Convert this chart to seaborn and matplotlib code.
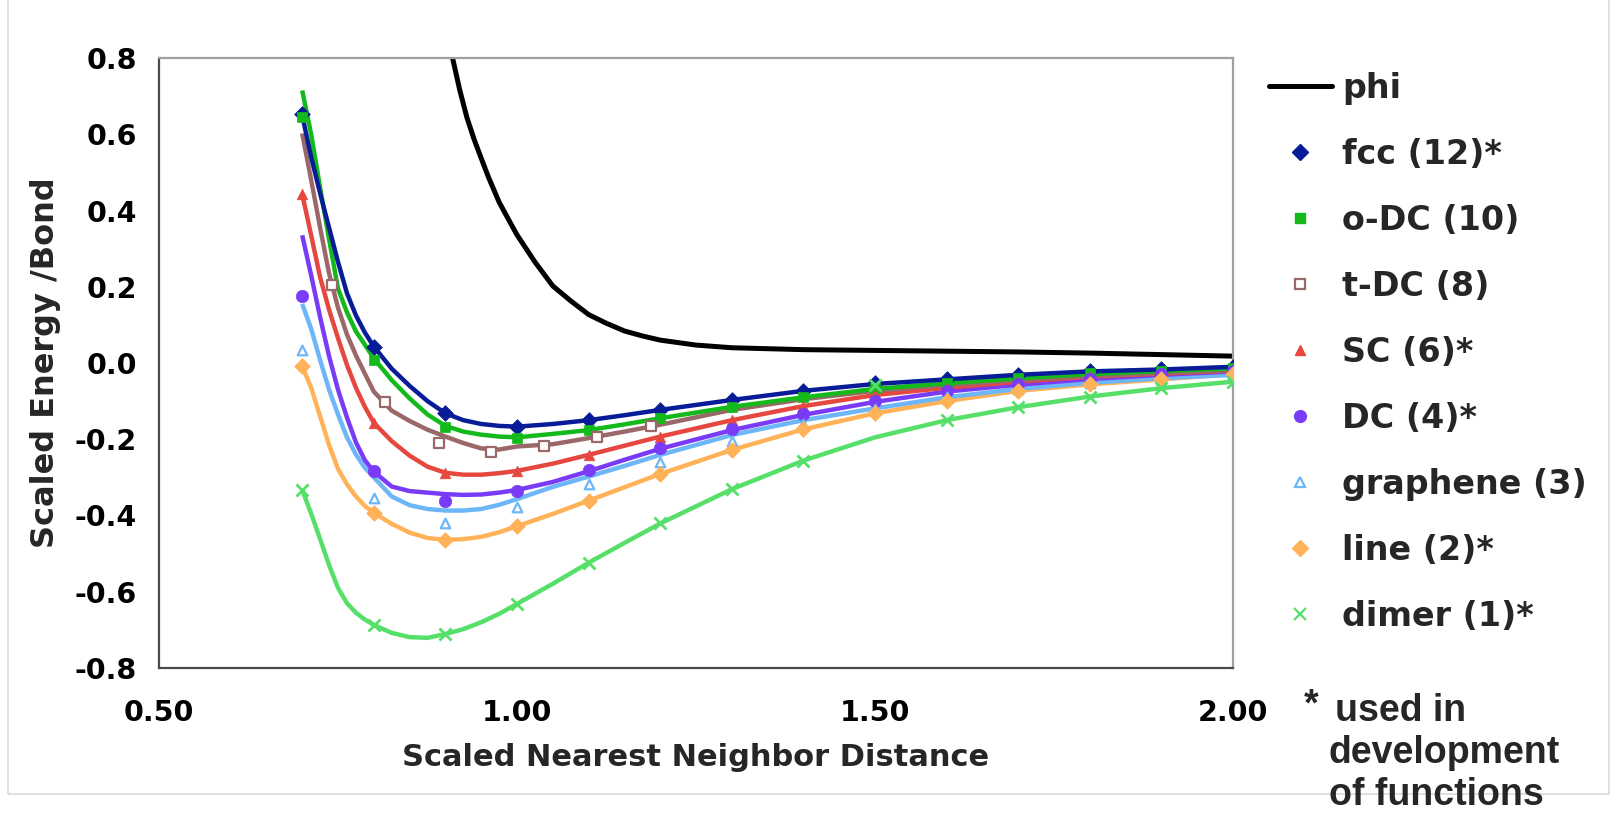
import matplotlib
matplotlib.use("Agg")
import matplotlib.pyplot as plt
from matplotlib.lines import Line2D
from matplotlib.patches import Rectangle
import seaborn as sns

# ---------------- data ----------------
x_pts = [0.7, 0.8, 0.9, 1.0, 1.1, 1.2, 1.3, 1.4, 1.5, 1.6, 1.7, 1.8, 1.9, 2.0]

fcc_pts = [0.653, 0.043, -0.132, -0.167, -0.150, -0.123, -0.097, -0.073, -0.053, -0.043, -0.031, -0.021, -0.017, -0.010]
odc_pts = [0.645, 0.008, -0.169, -0.196, -0.176, -0.145, -0.115, -0.090, -0.066, -0.053, -0.040, -0.027, -0.021, -0.014]
sc_pts = [0.443, -0.157, -0.288, -0.283, -0.241, -0.193, -0.150, -0.113, -0.084, -0.065, -0.049, -0.036, -0.028, -0.020]
dc_pts = [0.176, -0.283, -0.361, -0.336, -0.281, -0.222, -0.174, -0.134, -0.100, -0.073, -0.056, -0.041, -0.030, -0.022]
graphene_pts = [0.034, -0.355, -0.419, -0.379, -0.317, -0.259, -0.204, -0.160, -0.120, -0.090, -0.068, -0.052, -0.040, -0.030]
line_pts = [-0.008, -0.393, -0.464, -0.428, -0.361, -0.291, -0.228, -0.174, -0.132, -0.100, -0.073, -0.056, -0.043, -0.029]
dimer_pts = [-0.333, -0.687, -0.711, -0.632, -0.524, -0.421, -0.331, -0.256, -0.058, -0.150, -0.116, -0.088, -0.066, -0.049]

tdc_x = [0.742, 0.816, 0.891, 0.964, 1.038, 1.112, 1.187]
tdc_pts = [0.204, -0.101, -0.209, -0.233, -0.219, -0.193, -0.165]

# fitted curves
x_fit = [0.70, 0.7125, 0.725, 0.7375, 0.75, 0.7625, 0.775, 0.7875, 0.80, 0.825, 0.85, 0.875,
         0.90, 0.925, 0.95, 0.975, 1.00, 1.05, 1.10, 1.15, 1.20,
         1.30, 1.40, 1.50, 1.60, 1.70, 1.80, 1.90, 2.00]
fcc_fit = [0.650, 0.540, 0.445, 0.355, 0.265, 0.183, 0.125, 0.080, 0.043, -0.015, -0.060, -0.100,
           -0.132, -0.150, -0.160, -0.165, -0.167, -0.160, -0.150, -0.137, -0.123,
           -0.097, -0.073, -0.055, -0.043, -0.031, -0.022, -0.017, -0.010]
odc_fit = [0.715, 0.600, 0.460, 0.325, 0.195, 0.133, 0.083, 0.048, 0.012, -0.045, -0.093, -0.135,
           -0.165, -0.180, -0.188, -0.193, -0.195, -0.186, -0.176, -0.161, -0.145,
           -0.115, -0.090, -0.068, -0.053, -0.040, -0.029, -0.021, -0.014]
tdc_fit = [0.602, 0.480, 0.355, 0.235, 0.145, 0.075, 0.020, -0.028, -0.075, -0.125, -0.152, -0.175,
           -0.193, -0.210, -0.224, -0.227, -0.219, -0.213, -0.197, -0.180, -0.162,
           -0.123, -0.095, -0.073, -0.058, -0.045, -0.034, -0.026, -0.019]
sc_fit = [0.443, 0.335, 0.225, 0.140, 0.065, -0.005, -0.065, -0.115, -0.157, -0.205, -0.243, -0.272,
          -0.288, -0.293, -0.293, -0.289, -0.283, -0.264, -0.241, -0.217, -0.193,
          -0.150, -0.113, -0.084, -0.065, -0.049, -0.036, -0.028, -0.020]
dc_fit = [0.335, 0.230, 0.120, 0.018, -0.070, -0.143, -0.208, -0.255, -0.285, -0.324, -0.336, -0.340,
          -0.344, -0.346, -0.345, -0.340, -0.333, -0.312, -0.284, -0.254, -0.225,
          -0.176, -0.136, -0.102, -0.075, -0.057, -0.042, -0.031, -0.022]
graphene_fit = [0.155, 0.090, 0.008, -0.070, -0.135, -0.195, -0.240, -0.275, -0.300, -0.350, -0.373, -0.383,
                -0.387, -0.387, -0.383, -0.372, -0.357, -0.325, -0.298, -0.270, -0.241,
                -0.189, -0.150, -0.119, -0.090, -0.068, -0.052, -0.040, -0.031]
line_fit = [-0.008, -0.065, -0.140, -0.215, -0.278, -0.318, -0.350, -0.375, -0.393, -0.422, -0.445, -0.459,
            -0.464, -0.462, -0.456, -0.444, -0.428, -0.396, -0.361, -0.326, -0.291,
            -0.228, -0.174, -0.132, -0.100, -0.073, -0.056, -0.043, -0.029]
dimer_fit = [-0.333, -0.395, -0.462, -0.530, -0.590, -0.630, -0.655, -0.673, -0.687, -0.708, -0.719, -0.721,
             -0.711, -0.698, -0.680, -0.658, -0.632, -0.579, -0.524, -0.472, -0.421,
             -0.331, -0.256, -0.195, -0.150, -0.116, -0.088, -0.066, -0.049]

phi_x = [0.90, 0.91, 0.92, 0.93, 0.94, 0.95, 0.96, 0.975, 0.99, 1.00, 1.025, 1.05, 1.075, 1.10,
         1.125, 1.15, 1.175, 1.20, 1.25, 1.30, 1.40, 1.50, 1.60, 1.70, 1.80, 1.90, 2.00]
phi_y = [0.900, 0.800, 0.716, 0.644, 0.587, 0.537, 0.488, 0.422, 0.370, 0.336, 0.265, 0.202, 0.163, 0.127,
         0.104, 0.084, 0.071, 0.060, 0.047, 0.040, 0.035, 0.033, 0.031, 0.029, 0.026, 0.022, 0.018]

labels = ["phi", "fcc (12)*", "o-DC (10)", "t-DC (8)", "SC (6)*", "DC (4)*",
          "graphene (3)", "line (2)*", "dimer (1)*"]
x_ticks = [0.50, 1.00, 1.50, 2.00]
y_ticks = [-0.8, -0.6, -0.4, -0.2, 0.0, 0.2, 0.4, 0.6, 0.8]

# ---------------- style ----------------
sns.set_theme(style="white")
plt.rcParams["font.family"] = ["DejaVu Sans"]
plt.rcParams["axes.unicode_minus"] = False

C_FCC = "#071C96"
C_ODC = "#14BA1C"
C_TDC = "#9A6868"
C_SC = "#E6473F"
C_DC = "#7A3BF6"
C_GR = "#6DB6F7"
C_LINE = "#FFB258"
C_DIM = "#56E06A"

fig = plt.figure(figsize=(16.11, 8.16), dpi=100)
ax = fig.add_axes([0.0987, 0.1814, 0.6667, 0.7475])

# outer frame
fig.patches.append(Rectangle((8 / 1611, 22 / 816), 1601 / 1611, 820 / 816, transform=fig.transFigure,
                             fill=False, edgecolor="#D9D9D9", lw=1.2, zorder=0))

LW = 3.2
fits = [(fcc_fit, C_FCC), (odc_fit, C_ODC), (tdc_fit, C_TDC), (sc_fit, C_SC), (dc_fit, C_DC),
        (graphene_fit, C_GR), (line_fit, C_LINE), (dimer_fit, C_DIM)]
for yv, c in reversed(fits):
    sns.lineplot(x=x_fit, y=yv, ax=ax, color=c, lw=LW, sort=False,
                 solid_joinstyle="round", solid_capstyle="butt")

sns.lineplot(x=phi_x, y=phi_y, ax=ax, color="black", lw=3.6, sort=False, solid_joinstyle="round")

# markers
sns.scatterplot(x=x_pts, y=fcc_pts, ax=ax, marker="D", s=64, color=C_FCC, edgecolor=C_FCC, linewidth=0.5, zorder=5)
sns.scatterplot(x=x_pts, y=odc_pts, ax=ax, marker="s", s=58, color=C_ODC, edgecolor=C_ODC, linewidth=0.5, zorder=5)
sns.scatterplot(x=tdc_x, y=tdc_pts, ax=ax, marker="s", s=42, facecolor="white", edgecolor=C_TDC, linewidth=1.6, zorder=5)
sns.scatterplot(x=x_pts, y=sc_pts, ax=ax, marker="^", s=58, color=C_SC, edgecolor=C_SC, linewidth=0.5, zorder=5)
sns.scatterplot(x=x_pts, y=dc_pts, ax=ax, marker="o", s=80, color=C_DC, edgecolor=C_DC, linewidth=0.5, zorder=5)
sns.scatterplot(x=x_pts, y=graphene_pts, ax=ax, marker="^", s=48, facecolor="white", edgecolor=C_GR, linewidth=1.6, zorder=5)
sns.scatterplot(x=x_pts, y=line_pts, ax=ax, marker="D", s=64, color=C_LINE, edgecolor=C_LINE, linewidth=0.5, zorder=5)
sns.scatterplot(x=x_pts, y=dimer_pts, ax=ax, marker="x", s=75, color=C_DIM, linewidth=2, zorder=5)

ax.set_xlim(0.5, 2.0)
ax.set_ylim(-0.8, 0.8)
ax.set_xticks(x_ticks)
ax.set_xticklabels([f"{v:.2f}" for v in x_ticks])
ax.set_yticks(y_ticks)
ax.set_yticklabels([f"{v:.1f}" for v in y_ticks])

for lab in ax.get_xticklabels() + ax.get_yticklabels():
    lab.set_fontweight("bold")
    lab.set_fontsize(20.5)
    lab.set_color("black")

ax.tick_params(axis="both", which="major", direction="out", length=7, width=1, color="#404040")
ax.tick_params(axis="x", pad=15)
ax.tick_params(axis="y", pad=9)

for side in ["left", "bottom"]:
    ax.spines[side].set_color("#4a4a4a")
    ax.spines[side].set_linewidth(1.6)
for side in ["top", "right"]:
    ax.spines[side].set_color("#A0A0A0")
    ax.spines[side].set_linewidth(1.6)

ax.set_xlabel("Scaled Nearest Neighbor Distance", fontsize=22, fontweight="bold", labelpad=12)
ax.set_ylabel("Scaled Energy /Bond", fontsize=23, fontweight="bold", labelpad=10)
ax.grid(False)

# legend
handles = [
    Line2D([], [], color="black", lw=3.6),
    Line2D([], [], ls="", marker="D", ms=8, color=C_FCC),
    Line2D([], [], ls="", marker="s", ms=7, color=C_ODC),
    Line2D([], [], ls="", marker="s", ms=6.5, mfc="white", mec=C_TDC, mew=1.6),
    Line2D([], [], ls="", marker="^", ms=7.5, color=C_SC),
    Line2D([], [], ls="", marker="o", ms=8.5, color=C_DC),
    Line2D([], [], ls="", marker="^", ms=6.5, mfc="white", mec=C_GR, mew=1.6),
    Line2D([], [], ls="", marker="D", ms=8, color=C_LINE),
    Line2D([], [], ls="", marker="x", ms=9, color=C_DIM, mew=1.6),
]
leg = fig.legend(handles, labels, loc="upper left", bbox_to_anchor=(1252 / 1611, 1 - 55 / 816),
                 frameon=False, prop={"weight": "bold", "size": 24},
                 handlelength=1.9, handletextpad=0.3, labelspacing=0.99, borderpad=0)

# footnote
FN = dict(fontsize=27, fontweight="bold", family="Liberation Sans", va="center")
fig.text(1311 / 1611, 1 - 705 / 816, "*", ha="center", **FN)
fig.text(1335 / 1611, 1 - 711 / 816, "used in", ha="left", **FN)
fig.text(1329 / 1611, 1 - 753 / 816, "development", ha="left", **FN)
fig.text(1329 / 1611, 1 - 795 / 816, "of functions", ha="left", **FN)

fig.savefig("out.png", dpi=100)
